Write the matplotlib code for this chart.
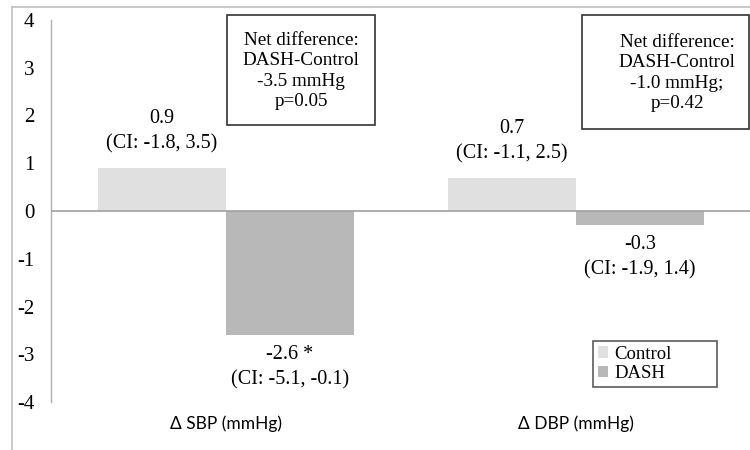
import matplotlib
matplotlib.use("Agg")
import matplotlib.pyplot as plt
from matplotlib.lines import Line2D
from matplotlib.patches import Rectangle
import numpy as np

categories = ["Δ SBP (mmHg)", "Δ DBP (mmHg)"]
control = [0.9, 0.7]
dash = [-2.6, -0.3]
control_labels = ["0.9\n(CI: -1.8, 3.5)", "0.7\n(CI: -1.1, 2.5)"]
dash_labels = ["-2.6 *\n(CI: -5.1, -0.1)", "-0.3\n(CI: -1.9, 1.4)"]
net_labels = ["Net difference:\nDASH-Control\n-3.5 mmHg\np=0.05",
              "Net difference:\nDASH-Control\n-1.0 mmHg;\np=0.42"]
yticks = [4, 3, 2, 1, 0, -1, -2, -3, -4]

c_ctrl = "#e0e0e0"
c_dash = "#b8b8b8"
serif = "Liberation Serif"

W, H = 750, 450


def fx(px):
    return px / W


def fy(py):
    return 1 - py / H


fig = plt.figure(figsize=(7.5, 4.5), dpi=100)
ax = fig.add_axes([fx(51), fy(402), 700 / W, (402 - 20) / H])

x = np.arange(len(categories))
bw = 0.366
ax.bar(x - bw / 2, control, bw, color=c_ctrl, label="Control", zorder=2)
ax.bar(x + bw / 2, dash, bw, color=c_dash, label="DASH", zorder=2)
ax.axhline(0, color="#a0a0a0", lw=1.2, zorder=3)

ax.set_xlim(-0.5, 1.5)
ax.set_ylim(-4, 4)
ax.set_yticks(yticks)
ax.set_yticklabels([str(t) for t in yticks], fontfamily=serif, fontsize=15)
ax.tick_params(axis="y", length=0, pad=12)
ax.set_xticks([])
for s in ["top", "right", "bottom"]:
    ax.spines[s].set_visible(False)
ax.spines["left"].set_color("#b0b0b0")
ax.spines["left"].set_linewidth(1)

for i in range(len(categories)):
    ax.text(x[i] - bw / 2, control[i] + 0.3, control_labels[i], ha="center", va="bottom",
            fontfamily=serif, fontsize=14.5, linespacing=1.45)
    ax.text(x[i] + bw / 2, dash[i] - 0.2, dash_labels[i], ha="center", va="top",
            fontfamily=serif, fontsize=14.5, linespacing=1.45)
    ax.text(x[i], -4.45, categories[i], ha="center", va="center",
            fontfamily="Lato", fontsize=12.5, clip_on=False)

# net difference boxes (pixel geometry of the reference)
boxes = [(227, 15, 375, 125, 301, 71), (582, 15, 749, 129, 677, 73)]
for (x0, y0, x1, y1, tx, ty), lab in zip(boxes, net_labels):
    fig.add_artist(Rectangle((fx(x0), fy(y1)), fx(x1) - fx(x0), fy(y0) - fy(y1),
                             transform=fig.transFigure, fc="white", ec="#333333", lw=1.2,
                             zorder=5))
    fig.text(fx(tx), fy(ty), lab, ha="center", va="center", fontfamily=serif,
             fontsize=13.8, linespacing=1.27, zorder=6)

leg = ax.legend(loc="upper left",
                bbox_to_anchor=(fx(593), fy(384), fx(717) - fx(593), fy(341) - fy(384)),
                bbox_transform=fig.transFigure, mode="expand",
                prop={"family": serif, "size": 13.5}, frameon=True, fancybox=False,
                handlelength=0.55, handleheight=0.55, handletextpad=0.35,
                labelspacing=0.12, borderpad=0.25, borderaxespad=0)
leg.get_frame().set_edgecolor("#333333")
leg.get_frame().set_linewidth(1.2)

# outer chart frame
fig.add_artist(Line2D([fx(12), fx(12)], [0, fy(7)], color="#c0c0c0", lw=1.2))
fig.add_artist(Line2D([fx(12), 1], [fy(7), fy(7)], color="#c0c0c0", lw=1.2))

fig.savefig("out.png", dpi=100)
